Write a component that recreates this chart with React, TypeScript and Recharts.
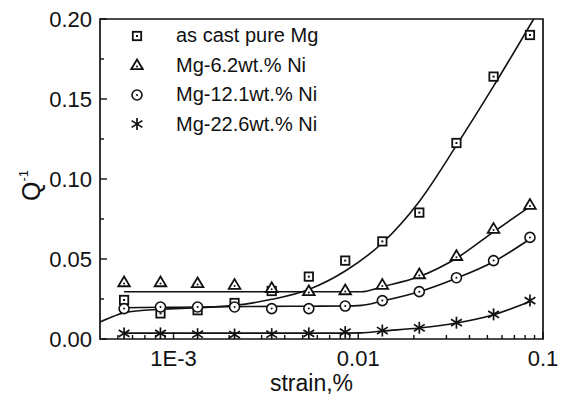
import React from "react";
import {
  ComposedChart,
  Line,
  Scatter,
  XAxis,
  YAxis,
  ReferenceArea,
} from "recharts";

// measured points (strain in %, internal friction Q^-1)
const strain = [0.00054, 0.00085, 0.00135, 0.00214, 0.0034, 0.0054, 0.0085, 0.0135, 0.0214, 0.034, 0.054, 0.085];
const pureMg = [0.0244, 0.016, 0.018, 0.0225, 0.03, 0.039, 0.049, 0.061, 0.079, 0.1225, 0.164, 0.19];
const mg62Ni = [0.0356, 0.0356, 0.035, 0.034, 0.032, 0.03, 0.0306, 0.034, 0.0406, 0.052, 0.069, 0.084];
const mg121Ni = [0.019, 0.02, 0.02, 0.02, 0.019, 0.019, 0.0206, 0.024, 0.0296, 0.0383, 0.049, 0.0635];
const mg226Ni = [0.0035, 0.0035, 0.003, 0.0028, 0.003, 0.0035, 0.0043, 0.0053, 0.007, 0.0102, 0.0154, 0.024];

// fitted curves
const pureMgFitStrain = [0.0004, 0.00047, 0.00054, 0.00085, 0.00135, 0.00214, 0.0034, 0.0054, 0.0085, 0.0135, 0.0214, 0.034, 0.054, 0.089];
const pureMgFit = [0.0106, 0.014, 0.0165, 0.0186, 0.0195, 0.021, 0.0248, 0.031, 0.0425, 0.06, 0.086, 0.121, 0.158, 0.2];
const niFitStrain = [0.00054, 0.00085, 0.00135, 0.00214, 0.0034, 0.0054, 0.0085, 0.0104, 0.0135, 0.0214, 0.034, 0.054, 0.085];
const mg62Fit = [0.0295, 0.0295, 0.0295, 0.0295, 0.0295, 0.0295, 0.0295, 0.0295, 0.0327, 0.039, 0.0505, 0.067, 0.0827];
const mg121Fit = [0.0195, 0.0198, 0.02, 0.0202, 0.0204, 0.0205, 0.0206, 0.021, 0.0238, 0.0296, 0.038, 0.0483, 0.0625];
const mg226Fit = [0.0037, 0.0037, 0.0037, 0.0037, 0.0037, 0.0037, 0.0037, 0.0038, 0.005, 0.0069, 0.01, 0.0152, 0.0235];

const xTicks = [0.001, 0.01, 0.1];
const xTickLabels = ["1E-3", "0.01", "0.1"];
const xMinorTicks = [
  0.0005, 0.0006, 0.0007, 0.0008, 0.0009,
  0.002, 0.003, 0.004, 0.005, 0.006, 0.007, 0.008, 0.009,
  0.02, 0.03, 0.04, 0.05, 0.06, 0.07, 0.08, 0.09,
];
const yTicks = [0, 0.05, 0.1, 0.15, 0.2];
const yTickLabels = ["0.00", "0.05", "0.10", "0.15", "0.20"];
const yMinorTicks = [0.025, 0.075, 0.125, 0.175];

const legendNames = ["as cast pure Mg", "Mg-6.2wt.% Ni", "Mg-12.1wt.% Ni", "Mg-22.6wt.% Ni"];

const INK = "#111";
const FONT = "'Liberation Sans', Arial, sans-serif";

type Kind = "square" | "triangle" | "circle" | "star";
const kinds: Kind[] = ["square", "triangle", "circle", "star"];

function Marker({ kind, cx, cy }: { kind: Kind; cx: number; cy: number }) {
  if (kind === "square") {
    return (
      <g>
        <rect x={cx - 4.2} y={cy - 4.2} width={8.4} height={8.4} fill="#fff" stroke={INK} strokeWidth={1.8} />
        <rect x={cx - 1} y={cy - 1} width={2} height={2} fill={INK} />
      </g>
    );
  }
  if (kind === "triangle") {
    return (
      <g>
        <polygon
          points={`${cx},${cy - 5.5} ${cx + 5.8},${cy + 4.2} ${cx - 5.8},${cy + 4.2}`}
          fill="#fff"
          stroke={INK}
          strokeWidth={1.8}
        />
        <circle cx={cx} cy={cy + 1.4} r={1} fill={INK} />
      </g>
    );
  }
  if (kind === "circle") {
    return (
      <g>
        <circle cx={cx} cy={cy} r={5} fill="#fff" stroke={INK} strokeWidth={1.6} />
        <circle cx={cx} cy={cy} r={1} fill={INK} />
      </g>
    );
  }
  return (
    <g stroke={INK} strokeWidth={1.7}>
      <line x1={cx} y1={cy - 6} x2={cx} y2={cy + 6} />
      <line x1={cx - 5.4} y1={cy - 3.4} x2={cx + 5.4} y2={cy + 3.4} />
      <line x1={cx - 5.4} y1={cy + 3.4} x2={cx + 5.4} y2={cy - 3.4} />
    </g>
  );
}

// inward tick marks, labels only on the major ticks
function XTick(props: any) {
  const { x, y, payload } = props;
  const idx = xTicks.indexOf(payload.value);
  const major = idx >= 0;
  return (
    <g>
      <line x1={x} y1={y} x2={x} y2={y - (major ? 7 : 4)} stroke={INK} strokeWidth={1.4} />
      {major && (
        <text x={x} y={y + 11} dy="0.72em" textAnchor="middle" fill={INK} fontSize={22} fontFamily={FONT}>
          {xTickLabels[idx]}
        </text>
      )}
    </g>
  );
}

function YTick(props: any) {
  const { x, y, payload } = props;
  const idx = yTicks.indexOf(payload.value);
  const major = idx >= 0;
  return (
    <g>
      <line x1={x} y1={y} x2={x + (major ? 7 : 4)} y2={y} stroke={INK} strokeWidth={1.4} />
      {major && (
        <text x={x - 8} y={y} dy="0.36em" textAnchor="end" fill={INK} fontSize={22} fontFamily={FONT}>
          {yTickLabels[idx]}
        </text>
      )}
    </g>
  );
}

const toPoints = (xs: number[], ys: number[]) => xs.map((x, i) => ({ x, y: ys[i] }));

const measured = [pureMg, mg62Ni, mg121Ni, mg226Ni];
const fits = [
  toPoints(pureMgFitStrain, pureMgFit),
  toPoints(niFitStrain, mg62Fit),
  toPoints(niFitStrain, mg121Fit),
  toPoints(niFitStrain, mg226Fit),
];

function YLabel(props: any) {
  const vb = props.viewBox || { x: 0, y: 19, width: 100, height: 320 };
  const x = vb.x + 40;
  const y = vb.y + vb.height / 2 + 22;
  return (
    <text
      x={x}
      y={y}
      transform={`rotate(-90, ${x}, ${y})`}
      textAnchor="start"
      fill={INK}
      fontFamily={FONT}
      fontSize={25}
    >
      Q
      <tspan fontSize={13} dy={-12}>-1</tspan>
    </text>
  );
}

export default function App() {
  return (
    <div style={{ position: "absolute", left: 0, top: 0, width: 567, height: 396, background: "#fff" }}>
      <ComposedChart width={567} height={396} margin={{ top: 19, right: 24, left: 0, bottom: 0 }}>
        <XAxis
          dataKey="x"
          type="number"
          scale="log"
          domain={[0.0004, 0.1]}
          allowDataOverflow
          ticks={[...xTicks, ...xMinorTicks]}
          interval={0}
          height={57}
          axisLine={false}
          tickLine={false}
          tickSize={0}
          tickMargin={0}
          tick={<XTick />}
          label={{
            value: "strain,%",
            position: "insideBottom",
            offset: 5,
            dx: -10,
            fill: INK,
            fontSize: 23,
            fontFamily: FONT,
          }}
        />
        <YAxis
          type="number"
          domain={[0, 0.2]}
          allowDataOverflow
          ticks={[...yTicks, ...yMinorTicks]}
          interval={0}
          width={100}
          axisLine={false}
          tickLine={false}
          tickSize={0}
          tickMargin={0}
          tick={<YTick />}
          label={{ content: YLabel }}
        />
        <ReferenceArea
          x1={0.0004}
          x2={0.1}
          y1={0}
          y2={0.2}
          fill="none"
          fillOpacity={0}
          stroke={INK}
          strokeWidth={1.7}
        />
        {fits.map((d, i) => (
          <Line
            key={`fit-${i}`}
            data={d}
            dataKey="y"
            type="monotone"
            stroke={INK}
            strokeWidth={1.6}
            dot={false}
            activeDot={false}
            isAnimationActive={false}
          />
        ))}
        {measured.map((vals, i) => (
          <Scatter
            key={`pts-${i}`}
            data={toPoints(strain, vals)}
            dataKey="y"
            isAnimationActive={false}
            shape={(p: any) => <Marker kind={kinds[i]} cx={p.cx} cy={p.cy} />}
          />
        ))}
      </ComposedChart>
      <div style={{ position: "absolute", left: 127, top: 21, fontFamily: FONT, fontSize: 20, color: INK }}>
        {legendNames.map((name, i) => (
          <div key={name} style={{ display: "flex", alignItems: "center", height: 29.5 }}>
            <svg width={20} height={20} style={{ display: "block" }}>
              <Marker kind={kinds[i]} cx={10} cy={10} />
            </svg>
            <span style={{ marginLeft: 29, whiteSpace: "nowrap" }}>{name}</span>
          </div>
        ))}
      </div>
    </div>
  );
}
